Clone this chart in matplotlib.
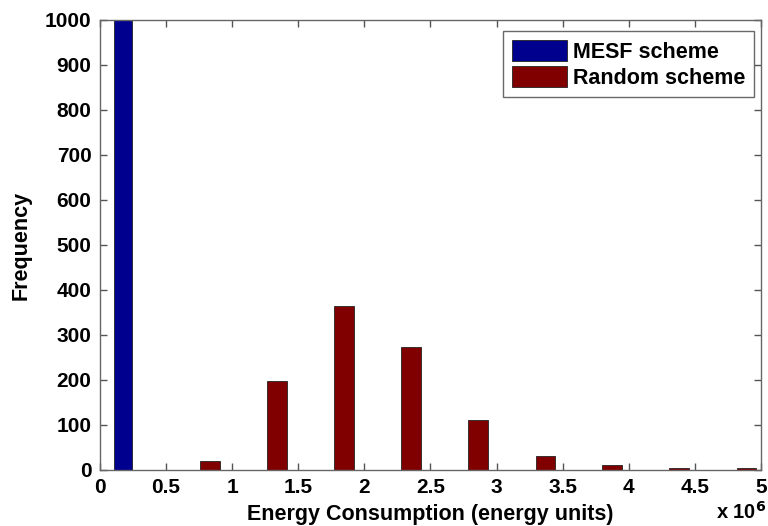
import matplotlib
matplotlib.use("Agg")
import matplotlib.pyplot as plt

# data (energy in units of 1e6)
mesf_x = [0.174]
mesf_freq = [1000]
rand_x = [0.83, 1.34, 1.845, 2.35, 2.86, 3.37, 3.875, 4.38, 4.89]
rand_freq = [20, 198, 364, 273, 111, 31, 12, 5, 5]

xticks = [0, 0.5, 1, 1.5, 2, 2.5, 3, 3.5, 4, 4.5, 5]
xticklabels = ["0", "0.5", "1", "1.5", "2", "2.5", "3", "3.5", "4", "4.5", "5"]
yticks = list(range(0, 1001, 100))

plt.rcParams["font.family"] = ["Liberation Sans", "DejaVu Sans"]
plt.rcParams["font.weight"] = "bold"

fig = plt.figure(figsize=(7.68, 5.26), dpi=100)
ax = fig.add_axes([0.130, 0.1065, 0.861, 0.8555])

ax.bar(mesf_x, mesf_freq, width=0.14, color="#00008F", edgecolor="#222222",
       linewidth=0.6, label="MESF scheme")
ax.bar(rand_x, rand_freq, width=0.15, color="#800000", edgecolor="#222222",
       linewidth=0.6, label="Random scheme")

ax.set_xlim(0, 5)
ax.set_ylim(0, 1000)
ax.set_xticks(xticks)
ax.set_xticklabels(xticklabels)
ax.set_yticks(yticks)
ax.tick_params(direction="in", top=True, right=True, length=5, width=1,
               color="#555555", labelsize=15, pad=6)
for lbl in ax.get_xticklabels() + ax.get_yticklabels():
    lbl.set_fontweight("bold")
for sp in ax.spines.values():
    sp.set_color("#666666")
    sp.set_linewidth(1.0)

ax.set_xlabel("Energy Consumption (energy units)", fontsize=15.5, fontweight="bold")
ax.set_ylabel("Frequency", fontsize=15.5, fontweight="bold")
ax.xaxis.set_label_coords(0.5, -0.076)
ax.yaxis.set_label_coords(-0.103, 0.5)

# MATLAB style exponent label
ax.text(1.008, -0.108, r"x 10$^{\mathbf{6}}$", transform=ax.transAxes,
        ha="right", va="baseline", fontsize=14.5, fontweight="bold")

leg = ax.legend(loc="upper right", fontsize=15.5, frameon=True, fancybox=False,
                edgecolor="#444444", handlelength=2.55, handleheight=1.15,
                handletextpad=0.3, borderpad=0.4, labelspacing=0.15,
                borderaxespad=0, bbox_to_anchor=(0.9894, 0.9756))
leg.get_frame().set_linewidth(1.0)
for t in leg.get_texts():
    t.set_fontweight("bold")

fig.savefig("out.png", dpi=100)
